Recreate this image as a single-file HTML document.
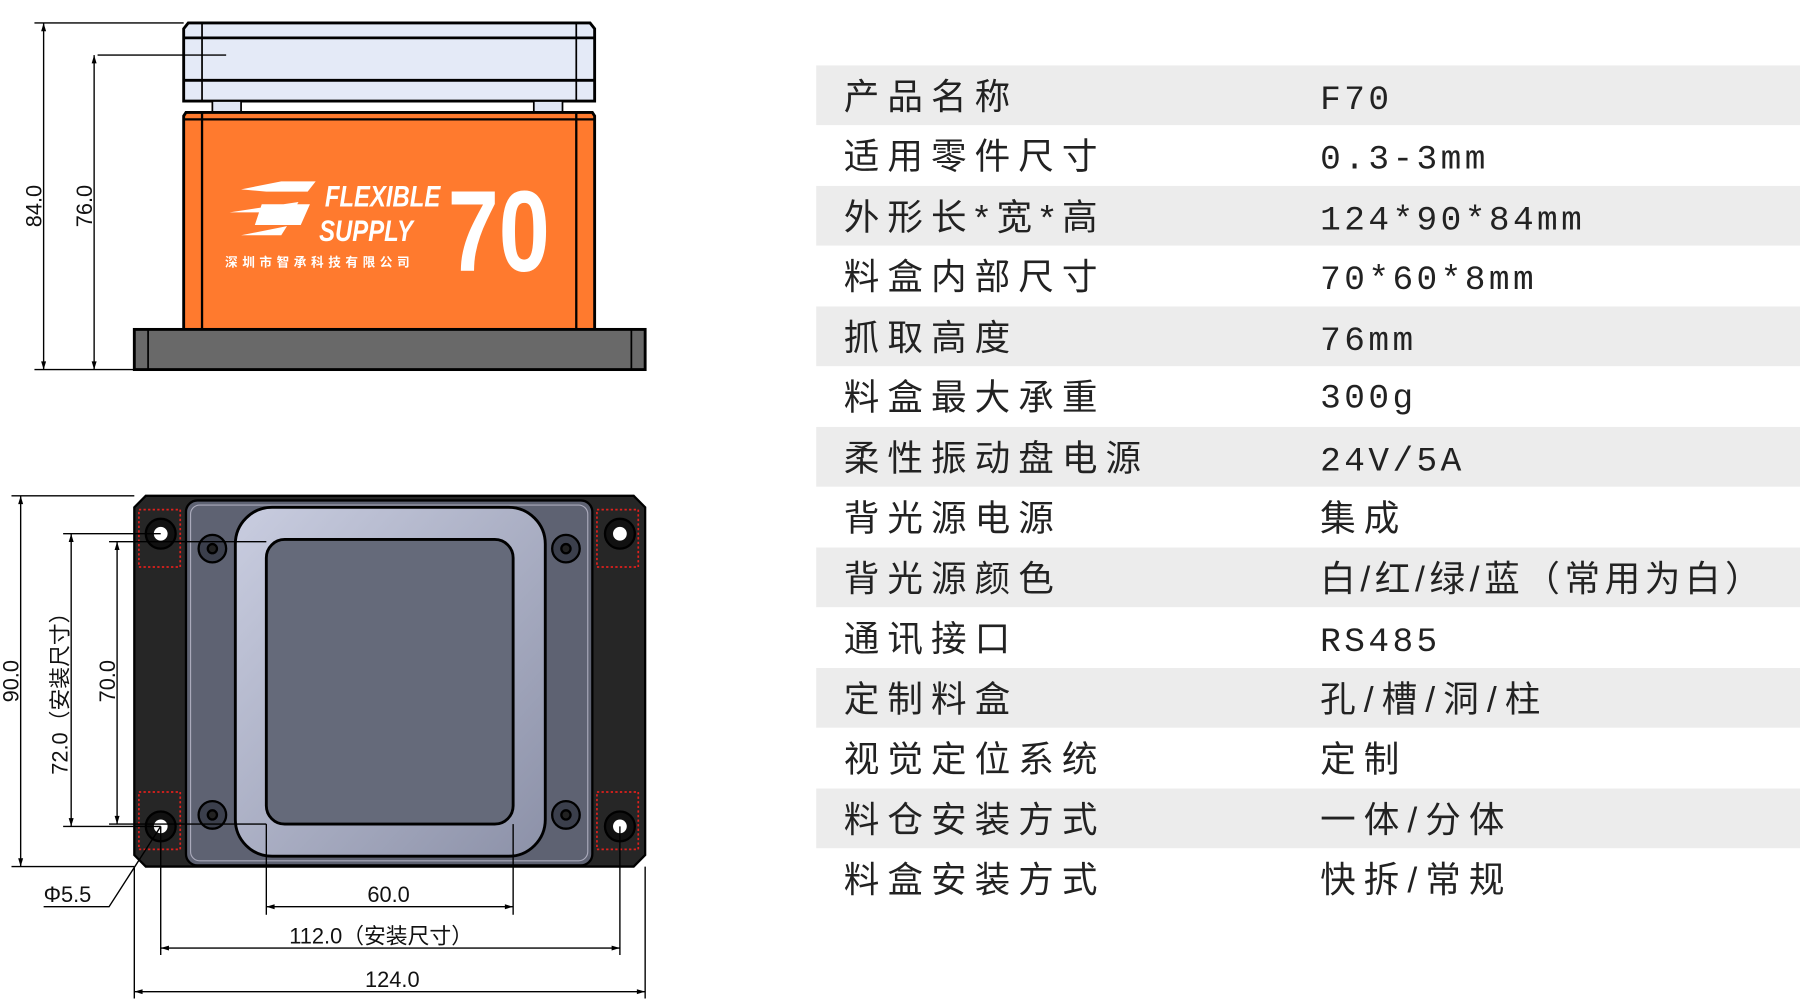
<!DOCTYPE html>
<html><head><meta charset="utf-8"><style>
html,body{margin:0;padding:0;background:#fff;}
svg{display:block;}
.lab{font-family:"Liberation Sans","Noto Sans CJK SC",sans-serif;font-size:31px;fill:#222;letter-spacing:7px;}
.val{font-family:"Liberation Mono","Noto Sans CJK SC",monospace;font-size:30px;fill:#222;letter-spacing:3px;}
.dim{font-family:"Liberation Sans Narrow","Liberation Sans","Noto Sans CJK SC",sans-serif;font-size:19px;fill:#111;}
</style></head><body>
<svg width="1800" height="1002" viewBox="0 0 1568 873" preserveAspectRatio="none" xmlns="http://www.w3.org/2000/svg">
<defs>
<marker id="a" viewBox="0 0 10 10" refX="10" refY="5" markerWidth="8" markerHeight="6" orient="auto-start-reverse"><path d="M0,2 L10,5 L0,8z" fill="#000"/></marker>
<linearGradient id="g1" x1="0" y1="0" x2="1" y2="1"><stop offset="0" stop-color="#c9cde0"/><stop offset="1" stop-color="#8c91a8"/></linearGradient>
</defs>
<g>
<rect x="711" y="57" width="857" height="52" fill="#ececec"/>
<rect x="711" y="162" width="857" height="52" fill="#ececec"/>
<rect x="711" y="267" width="857" height="52" fill="#ececec"/>
<rect x="711" y="372" width="857" height="52" fill="#ececec"/>
<rect x="711" y="477" width="857" height="52" fill="#ececec"/>
<rect x="711" y="582" width="857" height="52" fill="#ececec"/>
<rect x="711" y="687" width="857" height="52" fill="#ececec"/>
</g>
<g class="lab">
<text x="735" y="95">产品名称</text>
<text x="735" y="147">适用零件尺寸</text>
<text x="735" y="200">外形长*宽*高</text>
<text x="735" y="252">料盒内部尺寸</text>
<text x="735" y="305">抓取高度</text>
<text x="735" y="357">料盒最大承重</text>
<text x="735" y="410">柔性振动盘电源</text>
<text x="735" y="462">背光源电源</text>
<text x="735" y="515">背光源颜色</text>
<text x="735" y="567">通讯接口</text>
<text x="735" y="620">定制料盒</text>
<text x="735" y="672">视觉定位系统</text>
<text x="735" y="725">料仓安装方式</text>
<text x="735" y="777">料盒安装方式</text>
</g>
<g class="val">
<text x="1150" y="95">F70</text>
<text x="1150" y="147">0.3-3mm</text>
<text x="1150" y="200">124*90*84mm</text>
<text x="1150" y="252">70*60*8mm</text>
<text x="1150" y="305">76mm</text>
<text x="1150" y="355">300g</text>
<text x="1150" y="410">24V/5A</text>
<text x="1150" y="462" class="lab">集成</text>
<text x="1150" y="515" class="lab" style="letter-spacing:4px">白/红/绿/蓝（常用为白）</text>
<text x="1150" y="567">RS485</text>
<text x="1150" y="620" class="lab">孔/槽/洞/柱</text>
<text x="1150" y="672" class="lab">定制</text>
<text x="1150" y="725" class="lab">一体/分体</text>
<text x="1150" y="777" class="lab">快拆/常规</text>
</g>

<g stroke="#000" stroke-width="2.5">
<path d="M164,20 H514 L518,25 V88 H160 V25 Z" fill="#e4eaf7"/>
<line x1="160" y1="33" x2="518" y2="33"/>
<line x1="160" y1="70" x2="518" y2="70"/>
<line x1="176" y1="20" x2="176" y2="88" stroke-width="1.5"/>
<line x1="502" y1="20" x2="502" y2="88" stroke-width="1.5"/>
<rect x="185" y="88" width="25" height="10" fill="#dfe6f5" stroke-width="1.5"/>
<rect x="465" y="88" width="25" height="10" fill="#dfe6f5" stroke-width="1.5"/>
<path d="M162,98 H516 L518,101 V287 H160 V101 Z" fill="#ff7a2e"/>
<line x1="160" y1="104" x2="518" y2="104" stroke-width="2"/>
<line x1="176" y1="98" x2="176" y2="287" stroke-width="2"/>
<line x1="502" y1="98" x2="502" y2="287" stroke-width="2"/>
<rect x="117" y="287" width="445" height="35" fill="#696969"/>
<line x1="129" y1="287" x2="129" y2="322" stroke-width="1.5"/>
<line x1="550" y1="287" x2="550" y2="322" stroke-width="1.5"/>
</g>
<line x1="85" y1="48" x2="197" y2="48" stroke="#000" stroke-width="1.2"/>
<g fill="#fff">
<path d="M210,165 L245,158 L275,158 L268,167 L232,167 Z M200,185 L260,176 L255,185 Z M210,205 L250,197 L245,205 Z M228,178 L270,178 L262,196 L222,196Z"/>
<text x="283" y="180" font-family="Liberation Sans" font-weight="bold" font-style="italic" font-size="26" transform="scale(0.8,1)" transform-origin="283 180">FLEXIBLE</text>
<text x="278" y="210" font-family="Liberation Sans" font-weight="bold" font-style="italic" font-size="26" transform="scale(0.8,1)" transform-origin="278 210">SUPPLY</text>
<text x="390" y="236" font-family="Liberation Sans" font-weight="bold" font-size="100" transform="scale(0.8,1)" transform-origin="390 236">70</text>
<text x="196" y="232" font-family="Noto Sans CJK SC,sans-serif" font-weight="bold" font-size="11" letter-spacing="4">深圳市智承科技有限公司</text>
</g>
<g stroke="#000" stroke-width="1.2" fill="none">
<line x1="30" y1="20" x2="160" y2="20"/>
<line x1="30" y1="322" x2="117" y2="322"/>
<line x1="38" y1="20" x2="38" y2="322" marker-start="url(#a)" marker-end="url(#a)"/>
<line x1="82" y1="48" x2="82" y2="322" marker-start="url(#a)" marker-end="url(#a)"/>
</g>
<text class="dim" transform="translate(36,198) rotate(-90)">84.0</text>
<text class="dim" transform="translate(80,198) rotate(-90)">76.0</text>

<path d="M127,432 H552 L562,442 V745 L552,755 H127 L117,745 V442 Z" fill="#262626" stroke="#000" stroke-width="2"/>
<rect x="162" y="436" width="354" height="318" rx="10" fill="#5e6272" stroke="#000" stroke-width="2"/>
<rect x="166" y="440" width="346" height="310" rx="8" fill="none" stroke="#aab" stroke-width="1"/>
<rect x="205" y="442" width="270" height="304" rx="32" fill="url(#g1)" stroke="#000" stroke-width="2.5"/>
<rect x="232" y="470" width="215" height="248" rx="16" fill="#656a7a" stroke="#000" stroke-width="2.5"/>
<g fill="#3b3f4c" stroke="#000" stroke-width="2">
<circle cx="185" cy="478" r="12"/><circle cx="493" cy="478" r="12"/>
<circle cx="185" cy="710" r="12"/><circle cx="493" cy="710" r="12"/>
</g>
<g fill="#222" stroke="#000" stroke-width="2">
<circle cx="185" cy="478" r="4"/><circle cx="493" cy="478" r="4"/>
<circle cx="185" cy="710" r="4"/><circle cx="493" cy="710" r="4"/>
</g>
<g fill="#111" stroke="#000" stroke-width="2">
<circle cx="140" cy="465" r="13"/><circle cx="540" cy="465" r="13"/>
<circle cx="140" cy="720" r="13"/><circle cx="540" cy="720" r="13"/>
</g>
<g fill="#fff">
<circle cx="140" cy="465" r="6"/><circle cx="540" cy="465" r="6"/>
<circle cx="140" cy="720" r="6"/><circle cx="540" cy="720" r="6"/>
</g>
<g fill="none" stroke="#e0201c" stroke-width="1.5" stroke-dasharray="2,2">
<rect x="121" y="444" width="36" height="50"/><rect x="520" y="444" width="36" height="50"/>
<rect x="121" y="690" width="36" height="50"/><rect x="520" y="690" width="36" height="50"/>
</g>
<g stroke="#000" stroke-width="1.2" fill="none">
<line x1="10" y1="432" x2="117" y2="432"/>
<line x1="10" y1="755" x2="117" y2="755"/>
<line x1="18" y1="432" x2="18" y2="755" marker-start="url(#a)" marker-end="url(#a)"/>
<line x1="55" y1="465" x2="140" y2="465"/>
<line x1="55" y1="720" x2="140" y2="720"/>
<line x1="62" y1="465" x2="62" y2="720" marker-start="url(#a)" marker-end="url(#a)"/>
<line x1="95" y1="472" x2="232" y2="472"/>
<line x1="95" y1="718" x2="232" y2="718"/>
<line x1="102" y1="472" x2="102" y2="718" marker-start="url(#a)" marker-end="url(#a)"/>
<polyline points="140,720 95,790 38,790"/>
<line x1="232" y1="718" x2="232" y2="797"/>
<line x1="447" y1="718" x2="447" y2="797"/>
<line x1="232" y1="790" x2="447" y2="790" marker-start="url(#a)" marker-end="url(#a)"/>
<line x1="140" y1="720" x2="140" y2="832"/>
<line x1="540" y1="720" x2="540" y2="832"/>
<line x1="140" y1="826" x2="540" y2="826" marker-start="url(#a)" marker-end="url(#a)"/>
<line x1="117" y1="755" x2="117" y2="870"/>
<line x1="562" y1="755" x2="562" y2="870"/>
<line x1="117" y1="864" x2="562" y2="864" marker-start="url(#a)" marker-end="url(#a)"/>
</g>
<text class="dim" transform="translate(16,612) rotate(-90)">90.0</text>
<text class="dim" transform="translate(59,675) rotate(-90)">72.0（安装尺寸）</text>
<text class="dim" transform="translate(100,612) rotate(-90)">70.0</text>
<text class="dim" x="38" y="786">Φ5.5</text>
<text class="dim" x="320" y="786">60.0</text>
<text class="dim" x="252" y="822">112.0（安装尺寸）</text>
<text class="dim" x="318" y="860">124.0</text>
</svg>
</body></html>
